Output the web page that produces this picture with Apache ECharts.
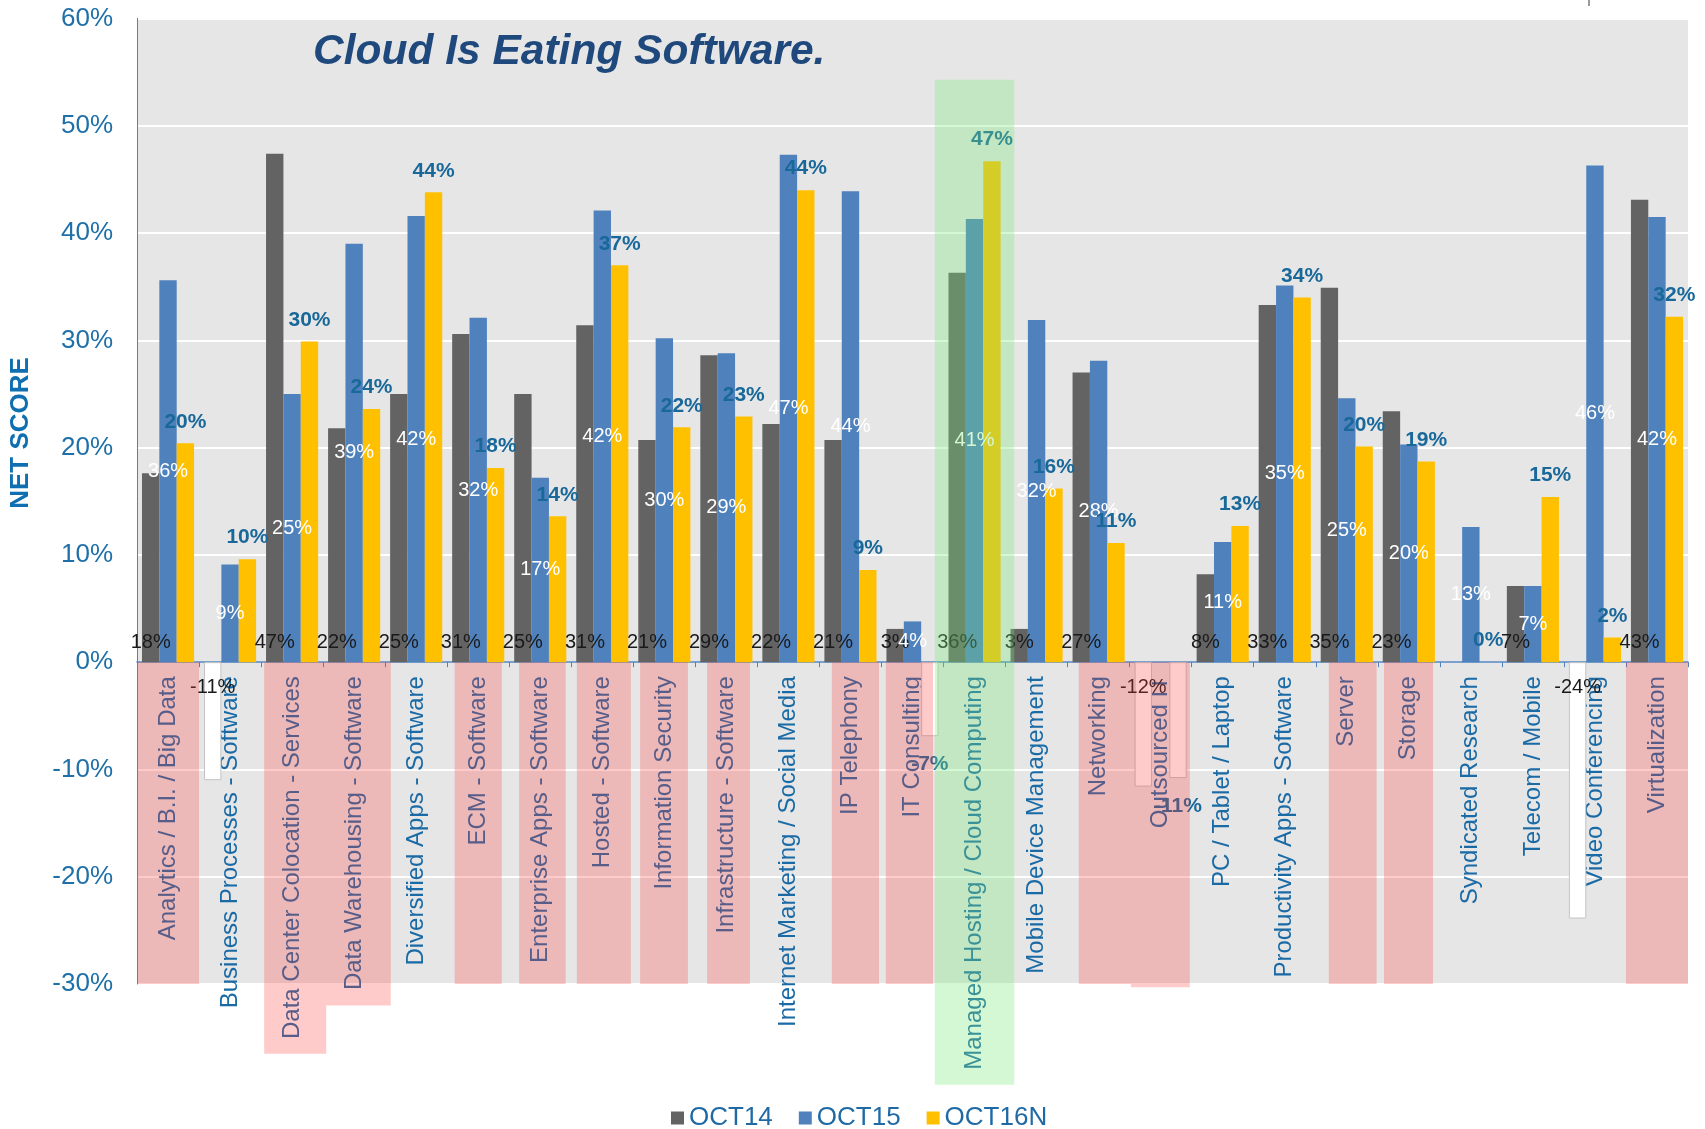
<!DOCTYPE html>
<html>
<head>
<meta charset="utf-8">
<title>Cloud Is Eating Software</title>
<script src="https://cdn.jsdelivr.net/npm/echarts@6/dist/echarts.min.js"></script>
<style>
  html, body { margin: 0; padding: 0; background: #fff; }
  #chart { width: 1705px; height: 1129px; }
</style>
</head>
<body>
<div id="chart"></div>
<script>
var categories = [
  'Analytics / B.I. / Big Data',
  'Business Processes - Software',
  'Data Center Colocation - Services',
  'Data Warehousing - Software',
  'Diversified Apps - Software',
  'ECM - Software',
  'Enterprise Apps - Software',
  'Hosted - Software',
  'Information Security',
  'Infrastructure - Software',
  'Internet Marketing / Social Media',
  'IP Telephony',
  'IT Consulting',
  'Managed Hosting / Cloud Computing',
  'Mobile Device Management',
  'Networking',
  'Outsourced IT',
  'PC / Tablet / Laptop',
  'Productivity Apps - Software',
  'Server',
  'Storage',
  'Syndicated Research',
  'Telecom / Mobile',
  'Video Conferencing',
  'Virtualization'
]
var oct14 = [17.6, -11, 47.4, 21.8, 25, 30.6, 25, 31.4, 20.7, 28.6, 22.2, 20.7, 3.1, 36.3, 3.1, 27, -11.6, 8.2, 33.3, 34.9, 23.4, null, 7.1, -23.9, 43.1]
var oct15 = [35.6, 9.1, 25, 39, 41.6, 32.1, 17.2, 42.1, 30.2, 28.8, 47.3, 43.9, 3.8, 41.3, 31.9, 28.1, null, 11.2, 35.1, 24.6, 20.3, 12.6, 7.1, 46.3, 41.5]
var oct16n = [20.4, 9.6, 29.9, 23.6, 43.8, 18.1, 13.6, 37, 21.9, 22.9, 44, 8.6, -6.9, 46.7, 16.2, 11.1, -10.8, 12.7, 34, 20.1, 18.7, 0, 15.4, 2.3, 32.2]
var seriesNames = ['OCT14', 'OCT15', 'OCT16N']

// highlight boxes: category, top, bottom, left/right offset in band widths
var pinkBoxes = [
  ['Analytics / B.I. / Big Data', 0, -30, -0.5, 0.5],
  ['Data Center Colocation - Services', 0, -36.5, -0.45, 0.55],
  ['Data Warehousing - Software', 0, -32, -0.45, 0.59],
  ['ECM - Software', 0, -30, -0.38, 0.38],
  ['Enterprise Apps - Software', 0, -30, -0.34, 0.41],
  ['Hosted - Software', 0, -30, -0.41, 0.46],
  ['Information Security', 0, -30, -0.39, 0.38],
  ['Infrastructure - Software', 0, -30, -0.31, 0.38],
  ['IP Telephony', 0, -30, -0.3, 0.46],
  ['IT Consulting', 0, -30, -0.43, 0.33],
  ['Networking', 0, -30, -0.32, 0.52],
  ['Outsourced IT', 0, -30.3, -0.48, 0.47],
  ['Server', 0, -30, -0.29, 0.48],
  ['Storage', 0, -30, -0.4, 0.39],
  ['Virtualization', 0, -30, -0.5, 0.5]
]
var greenBoxes = [
  ['Managed Hosting / Cloud Computing', 54.3, -39.4, -0.64, 0.64]
]

var font = 'Liberation Sans, Arial, sans-serif'
var negStyle = { color: '#ffffff', borderColor: '#c4c4c4', borderWidth: 1 }

var gridTop = 18.5
var gridBottom = 145
var yMin = -30
var yMax = 60
// lift the category axis from the grid bottom up to the zero line
var zeroOffset = -(1129 - gridTop - gridBottom) * (0 - yMin) / (yMax - yMin)

function pct(p) {
  return Math.round(p.value) + '%'
}

function build(values, posPos, negPos, negDist) {
  return values.map(function(v) {
    if (v === null) return '-'
    var item = { value: v, label: { position: v < 0 ? negPos : posPos } }
    if (v < 0) {
      item.itemStyle = negStyle
      if (negDist) item.label.distance = negDist
    }
    return item
  })
}

function boxRender(fill) {
  return function(params, api) {
    var t = api.coord([api.value(0), api.value(1)])
    var b = api.coord([api.value(0), api.value(2)])
    var bw = api.size([1, 0])[0]
    var x0 = t[0] + api.value(3) * bw
    var x1 = t[0] + api.value(4) * bw
    return {
      type: 'rect',
      shape: { x: x0, y: t[1], width: x1 - x0, height: b[1] - t[1] },
      style: { fill: fill }
    }
  }
}

var chart = echarts.init(document.getElementById('chart'))
var option = {
  backgroundColor: '#ffffff',
  animation: false,
  textStyle: { fontFamily: font },
  title: {
    text: 'Cloud Is Eating Software.',
    left: 308,
    top: 26,
    textStyle: { fontSize: 42.5, fontWeight: 'bold', fontStyle: 'italic', color: '#1f497d', fontFamily: font }
  },
  legend: {
    data: seriesNames,
    left: 666,
    top: 1100,
    icon: 'rect',
    itemWidth: 13,
    itemHeight: 13,
    itemGap: 26,
    textStyle: { fontSize: 26, color: '#1f6aa5', fontFamily: font }
  },
  grid: {
    left: 137,
    right: 17,
    top: gridTop,
    bottom: gridBottom,
    show: true,
    backgroundColor: '#e6e6e6',
    borderWidth: 0,
    containLabel: false,
    outerBoundsMode: 'none'
  },
  graphic: [
    {
      type: 'text',
      x: 21,
      y: 433,
      rotation: Math.PI / 2,
      style: { text: 'NET SCORE', fontSize: 26, fontWeight: 'bold', fontFamily: font, fill: '#0f6fb0', align: 'center', verticalAlign: 'middle' }
    },
    {
      type: 'line',
      shape: { x1: 1589, y1: 0, x2: 1589, y2: 6 },
      style: { stroke: '#9a9a9a', lineWidth: 2 }
    }
  ],
  xAxis: {
    type: 'category',
    data: categories,
    offset: zeroOffset,
    axisLine: { onZero: false, lineStyle: { color: '#4f81bd', width: 1.5 } },
    axisTick: { show: true, length: 5, lineStyle: { color: '#4f81bd' } },
    axisLabel: { interval: 0, rotate: 90, margin: 14, fontSize: 24, color: '#1a6aa6', fontFamily: font },
    splitLine: { show: false }
  },
  yAxis: {
    type: 'value',
    min: yMin,
    max: yMax,
    interval: 10,
    axisLine: { show: true, lineStyle: { color: '#4f81bd', width: 1 } },
    axisTick: { show: false },
    axisLabel: { formatter: '{value}%', fontSize: 26, margin: 24, color: '#1f70a8', fontFamily: font },
    splitLine: { show: true, lineStyle: { color: '#ffffff', width: 2 } }
  },
  series: [
    {
      name: seriesNames[0],
      type: 'bar',
      barGap: '0%',
      barCategoryGap: '16%',
      data: build(oct14, 'insideBottom', 'insideTop', 15),
      itemStyle: { color: '#636363' },
      label: { show: true, formatter: pct, distance: 10, fontSize: 20, color: '#1a1a1a', fontFamily: font }
    },
    {
      name: seriesNames[1],
      type: 'bar',
      data: build(oct15, 'inside', 'inside'),
      itemStyle: { color: '#4f81bd' },
      label: { show: true, formatter: pct, fontSize: 20, color: '#ffffff', fontFamily: font }
    },
    {
      name: seriesNames[2],
      type: 'bar',
      data: build(oct16n, 'top', 'bottom', 18),
      itemStyle: { color: '#ffc000' },
      label: { show: true, formatter: pct, distance: 11, fontSize: 21, fontWeight: 'bold', color: '#19689a', fontFamily: font }
    },
    {
      type: 'custom',
      name: 'pink',
      silent: true,
      clip: false,
      z: 10,
      renderItem: boxRender('rgba(255, 60, 60, 0.27)'),
      encode: { x: 0, y: [1, 2] },
      data: pinkBoxes
    },
    {
      type: 'custom',
      name: 'green',
      silent: true,
      clip: false,
      z: 10,
      renderItem: boxRender('rgba(120, 230, 120, 0.32)'),
      encode: { x: 0, y: [1, 2] },
      data: greenBoxes
    }
  ]
}
chart.setOption(option)
</script>
</body>
</html>
